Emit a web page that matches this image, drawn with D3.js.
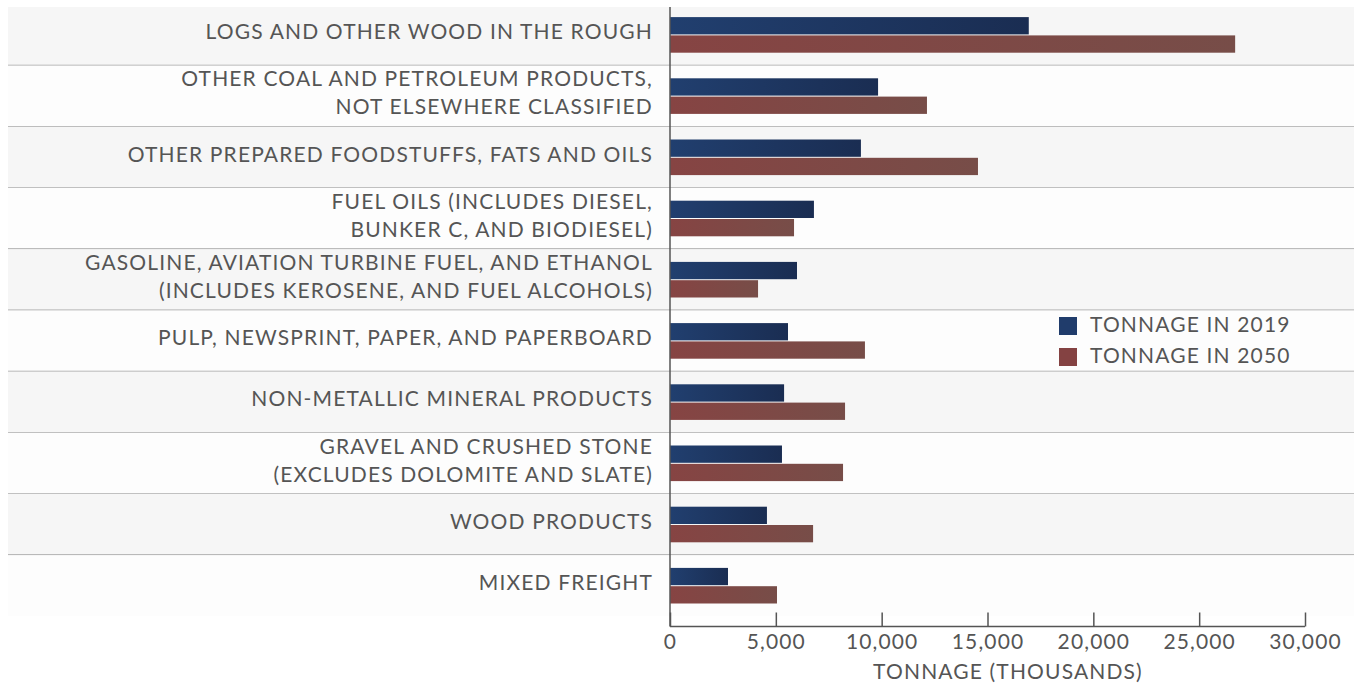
<!DOCTYPE html>
<meta charset="utf-8">
<style>
    body { margin: 0; background: #fff; }
    text { font-family: Lato, "Open Sans", sans-serif; fill: #555; letter-spacing: 1.15px; }
</style>

<svg width="1354" height="687"></svg>

<script src="https://cdn.jsdelivr.net/npm/d3@7"></script>
<script>
    // commodity categories, top to bottom
    var categories = [
        ["LOGS AND OTHER WOOD IN THE ROUGH"],
        ["OTHER COAL AND PETROLEUM PRODUCTS,", "NOT ELSEWHERE CLASSIFIED"],
        ["OTHER PREPARED FOODSTUFFS, FATS AND OILS"],
        ["FUEL OILS (INCLUDES DIESEL,", "BUNKER C, AND BIODIESEL)"],
        ["GASOLINE, AVIATION TURBINE FUEL, AND ETHANOL", "(INCLUDES KEROSENE, AND FUEL ALCOHOLS)"],
        ["PULP, NEWSPRINT, PAPER, AND PAPERBOARD"],
        ["NON-METALLIC MINERAL PRODUCTS"],
        ["GRAVEL AND CRUSHED STONE", "(EXCLUDES DOLOMITE AND SLATE)"],
        ["WOOD PRODUCTS"],
        ["MIXED FREIGHT"]
    ];
    var tonnage2019 = [16950, 9830, 9020, 6800, 6000, 5575, 5390, 5290, 4580, 2740];
    var tonnage2050 = [26700, 12140, 14550, 5860, 4160, 9210, 8270, 8175, 6760, 5055];
    var seriesNames = ["TONNAGE IN 2019", "TONNAGE IN 2050"];
    var xTicks = [0, 5000, 10000, 15000, 20000, 25000, 30000];

    (function () {
        var svg = d3.select("svg"),
            width = +svg.attr("width"),
            x0 = 670,
            x = d3.scaleLinear().domain([0, 30000]).range([x0, 1305]),
            y = d3.scaleBand().domain(d3.range(categories.length)).range([4.3, 616.3]),
            barH = 17.3,
            axisY = 626.5,
            fs = 21;

        var defs = svg.append("defs");
        function grad(id, c1, c2) {
            var g = defs.append("linearGradient").attr("id", id)
                .attr("x1", 0).attr("x2", 1).attr("y1", 0).attr("y2", 0);
            g.append("stop").attr("offset", 0).attr("stop-color", c1);
            g.append("stop").attr("offset", 1).attr("stop-color", c2);
        }
        grad("gBlue", "#213f6f", "#1a2d52");
        grad("gRed", "#864443", "#774d48");

        // row bands
        var rows = svg.append("g").selectAll("g")
            .data(categories)
            .enter().append("g");

        rows.append("rect")
            .attr("x", 8)
            .attr("y", function (d, i) { return Math.max(7, y(i)); })
            .attr("width", width - 8)
            .attr("height", function (d, i) { return y(i) + y.bandwidth() - Math.max(7, y(i)); })
            .attr("fill", function (d, i) { return i % 2 === 0 ? "#f6f6f6" : "#fdfdfd"; });

        rows.filter(function (d, i) { return i < categories.length - 1; })
            .append("line")
            .attr("x1", 8).attr("x2", width)
            .attr("y1", function (d, i) { return y(i) + y.bandwidth(); })
            .attr("y2", function (d, i) { return y(i) + y.bandwidth(); })
            .attr("stroke", "#a5a5a5")
            .attr("stroke-width", 1.5);

        // category labels (letter-spacing adds a trailing gap, so shift right a little)
        rows.append("text")
            .attr("text-anchor", "end")
            .attr("font-size", fs)
            .each(function (d, i) {
                var cy = y(i) + y.bandwidth() / 2 - 3,
                    lh = 28,
                    start = cy - (d.length - 1) * lh / 2;
                d3.select(this).selectAll("tspan")
                    .data(d)
                    .enter().append("tspan")
                    .attr("x", 653)
                    .attr("y", function (t, j) { return start + j * lh; })
                    .attr("dy", "0.35em")
                    .text(function (t) { return t; });
            });

        // bars
        var bars = svg.append("g");
        bars.selectAll(".b2019")
            .data(tonnage2019)
            .enter().append("rect")
            .attr("x", x0)
            .attr("y", function (d, i) { return y(i) + y.bandwidth() / 2 - barH - 0.5; })
            .attr("width", function (d) { return x(d) - x0; })
            .attr("height", barH)
            .attr("fill", "url(#gBlue)");
        bars.selectAll(".b2050")
            .data(tonnage2050)
            .enter().append("rect")
            .attr("x", x0)
            .attr("y", function (d, i) { return y(i) + y.bandwidth() / 2 + 0.5; })
            .attr("width", function (d) { return x(d) - x0; })
            .attr("height", barH)
            .attr("fill", "url(#gRed)");

        // x axis
        var axis = svg.append("g").attr("transform", "translate(0," + axisY + ")")
            .call(d3.axisBottom(x).tickValues(xTicks).tickSize(-14).tickPadding(0)
                .tickFormat(d3.format(",")));
        axis.select(".domain").remove();
        axis.append("line")
            .attr("x1", x0).attr("x2", 1305)
            .attr("stroke", "#555").attr("stroke-width", 1.5);
        axis.selectAll(".tick line").attr("stroke", "#555").attr("stroke-width", 1.5);
        axis.selectAll(".tick text")
            .attr("y", 15).attr("dy", "0.35em")
            .attr("font-size", fs)
            .attr("font-family", null)
            .attr("fill", "#555");

        // y axis line
        svg.append("line")
            .attr("x1", x0).attr("x2", x0)
            .attr("y1", 7).attr("y2", axisY)
            .attr("stroke", "#555").attr("stroke-width", 1.5);

        svg.append("text")
            .attr("x", 1008).attr("y", 672)
            .attr("dy", "0.35em")
            .attr("text-anchor", "middle")
            .attr("font-size", fs)
            .text("TONNAGE (THOUSANDS)");

        // legend
        var legend = svg.append("g").attr("transform", "translate(1059,317)")
            .selectAll("g")
            .data(seriesNames)
            .enter().append("g")
            .attr("transform", function (d, i) { return "translate(0," + i * 31 + ")"; });
        legend.append("rect")
            .attr("width", 18).attr("height", 18)
            .attr("fill", function (d, i) { return i === 0 ? "#203c6b" : "#844242"; });
        legend.append("text")
            .attr("x", 31).attr("y", 8).attr("dy", "0.35em")
            .attr("font-size", fs)
            .text(function (d) { return d; });
    })();
</script>
